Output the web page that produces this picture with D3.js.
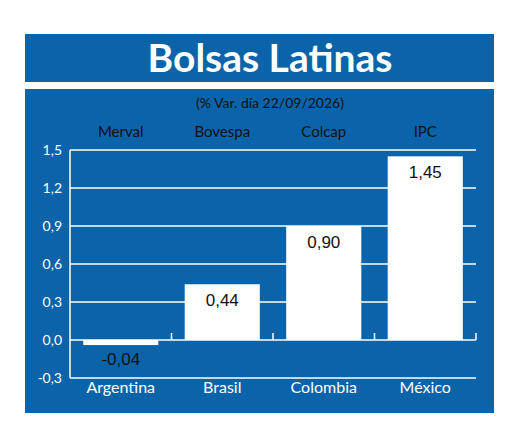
<!DOCTYPE html><html><head><meta charset="utf-8"><script src="https://cdn.jsdelivr.net/npm/d3@7"></script>
<style>body{margin:0;background:#fff}</style></head><body><svg width="520" height="441"></svg>
<script>
const countries=["Argentina","Brasil","Colombia","México"];
const indices=["Merval","Bovespa","Colcap","IPC"];
const values=[-0.04,0.44,0.90,1.45];
const valueLabels=["-0,04","0,44","0,90","1,45"];
const ticks=[-0.3,0,0.3,0.6,0.9,1.2,1.5];
const tickLabels=["-0,3","0,0","0,3","0,6","0,9","1,2","1,5"];
const blue="#0b63a9", F="Lato, 'Open Sans', sans-serif";
const svg=d3.select("svg");
svg.append("rect").attr("x",25).attr("y",34).attr("width",469).attr("height",48).attr("fill",blue);
svg.append("rect").attr("x",25).attr("y",89).attr("width",469).attr("height",324).attr("fill",blue);
svg.append("text").attr("x",270).attr("y",72).attr("text-anchor","middle").attr("fill","#fff").attr("font-family",F).attr("font-weight","bold").attr("font-size",39).text("Bolsas Latinas");
svg.append("text").attr("x",270).attr("y",108).attr("text-anchor","middle").attr("fill","#111").attr("font-family",F).attr("font-size",14).text("(% Var. día 22/09/2026)");
const x=d3.scaleBand().domain(countries).range([70,476]).paddingInner(0.26).paddingOuter(0.13);
const y=d3.scaleLinear().domain([-0.3,1.5]).range([378,150]);
const g=svg.append("g");
ticks.forEach((t,i)=>{
 if(t!==-0.3) g.append("line").attr("x1",70).attr("x2",476).attr("y1",y(t)).attr("y2",y(t)).attr("stroke","#fff").attr("stroke-width",1.5);
 g.append("text").attr("x",62).attr("y",y(t)+5).attr("text-anchor","end").attr("fill","#fff").attr("font-family",F).attr("font-size",14).text(tickLabels[i]);
});
g.append("line").attr("x1",70).attr("x2",476).attr("y1",y(-0.3)).attr("y2",y(-0.3)).attr("stroke","#fff").attr("stroke-width",1.5);
g.append("line").attr("x1",70).attr("x2",70).attr("y1",y(1.5)).attr("y2",y(-0.3)).attr("stroke","#fff").attr("stroke-width",1.5);
const step=(476-70)/4;
[1,2,3,4].forEach(k=>g.append("line").attr("x1",70+k*step).attr("x2",70+k*step).attr("y1",y(0)).attr("y2",y(0)-7).attr("stroke","#fff").attr("stroke-width",1.5));
countries.forEach((c,i)=>{
 const v=values[i];
 g.append("rect").attr("x",x(c)).attr("width",x.bandwidth()).attr("y",y(Math.max(0,v))).attr("height",Math.abs(y(v)-y(0))).attr("fill","#fff");
 const cx=x(c)+x.bandwidth()/2;
 g.append("text").attr("x",cx).attr("y",v<0?y(v)+20:y(v)+22).attr("text-anchor","middle").attr("fill","#111").attr("font-family","'Liberation Sans', sans-serif").attr("font-size",17).text(valueLabels[i]);
 g.append("text").attr("x",cx).attr("y",137).attr("text-anchor","middle").attr("fill","#111").attr("font-family",F).attr("font-size",15).text(indices[i]);
 g.append("text").attr("x",cx).attr("y",393).attr("text-anchor","middle").attr("fill","#fff").attr("font-family",F).attr("font-size",16).text(c);
});
</script></body></html>
